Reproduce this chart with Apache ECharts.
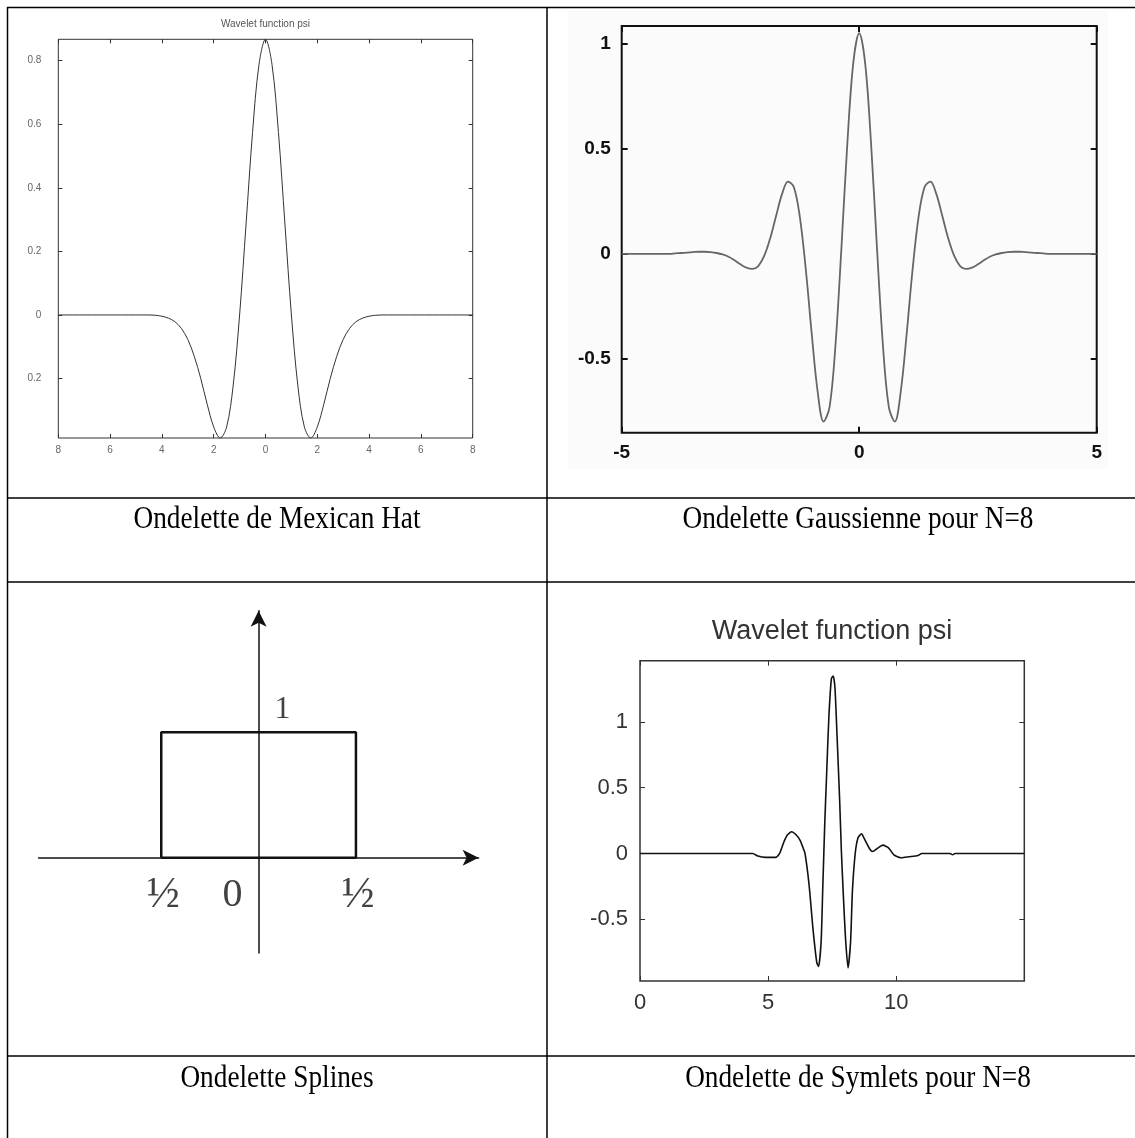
<!DOCTYPE html>
<html>
<head>
<meta charset="utf-8">
<script src="https://cdn.jsdelivr.net/npm/echarts@6/dist/echarts.min.js"></script>
<style>
  html, body { margin: 0; padding: 0; background: #fff; }
  #c { width: 1135px; height: 1138px; }
</style>
</head>
<body>
<div id="c"></div>
<script>
// ---- Mexican hat wavelet ----
const mexX = [-8, -4.5, -4.25, -4, -3.75, -3.5, -3.25, -3, -2.75, -2.5, -2.25, -2, -1.75, -1.5, -1.25, -1, -0.75, -0.5, -0.25,
  0, 0.25, 0.5, 0.75, 1, 1.25, 1.5, 1.75, 2, 2.25, 2.5, 2.75, 3, 3.25, 3.5, 3.75, 4, 4.25, 4.5, 8];
const mexY = [0, 0, -0.001, -0.004, -0.010, -0.021, -0.042, -0.077, -0.130, -0.200, -0.281, -0.352, -0.387, -0.352, -0.223, 0, 0.286, 0.574, 0.788,
  0.867, 0.788, 0.574, 0.286, 0, -0.223, -0.352, -0.387, -0.352, -0.281, -0.200, -0.130, -0.077, -0.042, -0.021, -0.010, -0.004, -0.001, 0, 0];
const mexYTicks = [-0.2, 0, 0.2, 0.4, 0.6, 0.8];

// ---- Gaussian wavelet, N = 8 ----
const gausX = [-5, -4, -3.875, -3.75, -3.625, -3.5, -3.375, -3.25, -3.125, -3, -2.875, -2.75, -2.625, -2.5, -2.375, -2.25, -2.125,
  -2, -1.875, -1.75, -1.625, -1.5, -1.375, -1.25, -1.125, -1, -0.875, -0.75, -0.625, -0.5, -0.375, -0.25, -0.125,
  0, 0.125, 0.25, 0.375, 0.5, 0.625, 0.75, 0.875, 1, 1.125, 1.25, 1.375, 1.5, 1.625, 1.75, 1.875,
  2, 2.125, 2.25, 2.375, 2.5, 2.625, 2.75, 2.875, 3, 3.125, 3.25, 3.375, 3.5, 3.625, 3.75, 3.875, 4, 5];
const gausY = [0, 0, 0.002, 0.004, 0.006, 0.008, 0.010, 0.010, 0.008, 0.004, -0.003, -0.014, -0.031, -0.050, -0.066, -0.072, -0.058,
  -0.010, 0.073, 0.180, 0.284, 0.344, 0.317, 0.176, -0.072, -0.379, -0.655, -0.798, -0.730, -0.436, 0.025, 0.524, 0.907,
  1.05, 0.907, 0.524, 0.025, -0.436, -0.730, -0.798, -0.655, -0.379, -0.072, 0.176, 0.317, 0.344, 0.284, 0.180, 0.073,
  -0.010, -0.058, -0.072, -0.066, -0.050, -0.031, -0.014, -0.003, 0.004, 0.008, 0.010, 0.010, 0.008, 0.006, 0.004, 0.002, 0, 0];
const gausYTicks = [-0.5, 0, 0.5, 1];

// ---- Spline (box) wavelet ----
const boxX = [-0.5, -0.5, 0.5, 0.5, -0.5];
const boxY = [0, 1, 1, 0, 0];
const boxTickX = [-0.5, 0, 0.5];
const boxTickText = ['½', '0', '½'];
const boxLevelText = '1';

// ---- Symlet wavelet, N = 8 ----
const symX = [0, 4.4, 4.6, 4.9, 5.3, 5.45, 5.6, 5.75, 5.92, 6.1, 6.25, 6.35, 6.44, 6.6, 6.75, 6.9, 6.97, 7.07, 7.13, 7.21, 7.28,
  7.37, 7.47, 7.54, 7.61, 7.69, 7.79, 7.86, 7.93, 8.02, 8.12, 8.22, 8.29, 8.4, 8.51, 8.65, 8.76, 8.98, 9.08, 9.27, 9.48,
  9.7, 9.91, 10.2, 10.5, 10.85, 11.0, 12.1, 12.2, 12.3, 15];
const symY = [0, 0, -0.02, -0.03, -0.03, 0, 0.08, 0.14, 0.165, 0.14, 0.10, 0.05, 0, -0.24, -0.57, -0.83, -0.86, -0.67, -0.29, 0.22, 0.58,
  1.03, 1.33, 1.35, 1.26, 0.90, 0.42, 0.02, -0.29, -0.64, -0.87, -0.67, -0.29, 0, 0.12, 0.15, 0.11, 0.03, 0.015, 0.04, 0.063,
  0.043, -0.01, -0.033, -0.025, -0.015, 0, 0, -0.01, 0, 0];
const symYTicks = [-0.5, 0, 0.5, 1];

// ---- captions ----
const captions = ['Ondelette de Mexican Hat', 'Ondelette Gaussienne pour N=8', 'Ondelette Splines', 'Ondelette de Symlets pour N=8'];
const plotTitle = 'Wavelet function psi';

const zip = (xs, ys) => xs.map((x, i) => [x, ys[i]]);
const noSplit = { show: false };

// boxed plot: bottom/left axes carry labels, top/right only inward ticks
function boxedAxes(grid, xCfg, yCfg, tickColor, tickLen, tickWidth, labelStyle) {
  const tick = { inside: true, length: tickLen, lineStyle: { color: tickColor, width: tickWidth } };
  const xs = ['bottom', 'top'].map((pos, k) => Object.assign({
    gridIndex: grid, type: 'value', position: pos,
    axisLine: { show: false, onZero: false },
    axisTick: Object.assign({}, tick),
    splitLine: noSplit,
    axisLabel: k === 0 ? Object.assign({}, labelStyle.x) : { show: false }
  }, xCfg));
  const ys = ['left', 'right'].map((pos, k) => Object.assign({
    gridIndex: grid, type: 'value', position: pos,
    axisLine: { show: false, onZero: false },
    axisTick: Object.assign({ customValues: yCfg.ticks }, tick),
    splitLine: noSplit,
    axisLabel: k === 0 ? Object.assign({ customValues: yCfg.ticks }, labelStyle.y) : { show: false }
  }, { min: yCfg.min, max: yCfg.max }));
  return { xs, ys };
}

const mexAxes = boxedAxes(0, { min: -8, max: 8, interval: 2 }, { min: -0.387, max: 0.867, ticks: mexYTicks }, '#333', 4, 1, {
  x: { fontFamily: 'Liberation Sans', fontSize: 10, color: '#666', margin: 7, formatter: v => String(Math.abs(v)) },
  y: { fontFamily: 'Liberation Sans', fontSize: 10, color: '#666', margin: 17, formatter: v => String(Math.abs(v)) }
});
const gausAxes = boxedAxes(1, { min: -5, max: 5, interval: 5 }, { min: -0.851, max: 1.084, ticks: gausYTicks }, '#111', 6, 2, {
  x: { fontFamily: 'Liberation Sans', fontWeight: 'bold', fontSize: 19, color: '#111', margin: 11 },
  y: { fontFamily: 'Liberation Sans', fontWeight: 'bold', fontSize: 19, color: '#111', margin: 11 }
});
const symAxes = boxedAxes(3, { min: 0, max: 15, interval: 5 }, { min: -0.97, max: 1.466, ticks: symYTicks }, '#333', 5, 1, {
  x: { fontFamily: 'Liberation Sans', fontSize: 22, color: '#333', margin: 11, showMaxLabel: false },
  y: { fontFamily: 'Liberation Sans', fontSize: 22, color: '#333', margin: 12 }
});

const arrowAxisLine = {
  show: true, onZero: true, symbol: ['none', 'arrow'], symbolSize: [12, 16],
  lineStyle: { color: '#111', width: 1.5 }
};

const xAxis = [
  ...mexAxes.xs, ...gausAxes.xs,
  { gridIndex: 2, type: 'value', min: -1.13, max: 1.13, axisLine: arrowAxisLine, axisTick: { show: false }, axisLabel: { show: false }, splitLine: noSplit },
  ...symAxes.xs
];
const yAxis = [
  ...mexAxes.ys, ...gausAxes.ys,
  { gridIndex: 2, type: 'value', min: -0.76, max: 1.97, axisLine: arrowAxisLine, axisTick: { show: false }, axisLabel: { show: false }, splitLine: noSplit },
  ...symAxes.ys
];

// text marks of the spline diagram, placed in data coordinates
const serif = 'Liberation Serif';
const boxTickOffsets = [[2, 38], [-26, 38], [2, 38]];
const boxTickSizes = [44, 40, 44];
const boxLabels = boxTickX.map((x, i) => ({
  value: [x, 0],
  label: { show: true, formatter: boxTickText[i], offset: boxTickOffsets[i], fontFamily: serif, fontSize: boxTickSizes[i], color: '#111' }
}));
boxLabels.push({
  value: [0, 1],
  label: { show: true, formatter: boxLevelText, offset: [24, -23], fontFamily: serif, fontSize: 32, color: '#111' }
});

const W = 1135, H = 1138;
const ruleLines = [
  [7, 7.5, W, 7.5], [7, 498, W, 498], [7, 582, W, 582], [7, 1056, W, 1056],
  [7.5, 7, 7.5, H], [547, 7, 547, H]
];
const graphic = [
  // light backdrop behind the Gaussian plot
  { type: 'rect', shape: { x: 568, y: 10, width: 540, height: 459 }, style: { fill: '#fbfbfb' }, z: -10 },
  ...ruleLines.map(l => ({ type: 'line', shape: { x1: l[0], y1: l[1], x2: l[2], y2: l[3] }, style: { stroke: '#000', lineWidth: 1.5 }, z: 10 })),
  { type: 'text', x: 265.5, y: 24, style: { text: plotTitle, font: '10px "Liberation Sans"', fill: '#555', textAlign: 'center', textVerticalAlign: 'middle' } },
  { type: 'text', x: 832, y: 632, style: { text: plotTitle, font: '27px "Liberation Sans"', fill: '#333', textAlign: 'center', textVerticalAlign: 'middle' } },
  ...captions.map((t, i) => ({
    type: 'text', x: i % 2 === 0 ? 277 : 858, y: i < 2 ? 520 : 1079, scaleX: 0.88,
    style: { text: t, font: '31px "Liberation Serif"', fill: '#000', textAlign: 'center', textVerticalAlign: 'middle' }
  }))
];

const option = {
  animation: false,
  backgroundColor: '#fff',
  grid: [
    { left: 58.3, top: 39.3, width: 414.4, height: 398.7, show: true, borderColor: '#333', borderWidth: 1, backgroundColor: 'transparent', outerBoundsMode: 'none' },
    { left: 621.7, top: 26, width: 475, height: 406.7, show: true, borderColor: '#111', borderWidth: 2, backgroundColor: 'transparent', outerBoundsMode: 'none' },
    { left: 38.6, top: 610.7, width: 440, height: 342.3, outerBoundsMode: 'none' },
    { left: 640, top: 660.7, width: 384.3, height: 320.3, show: true, borderColor: '#333', borderWidth: 1.5, backgroundColor: 'transparent', outerBoundsMode: 'none' }
  ],
  xAxis, yAxis,
  graphic,
  series: [
    { type: 'line', xAxisIndex: 0, yAxisIndex: 0, data: zip(mexX, mexY), smooth: 0.35, showSymbol: false,
      lineStyle: { color: '#333', width: 1 } },
    { type: 'line', xAxisIndex: 2, yAxisIndex: 2, data: zip(gausX, gausY), smooth: 0.35, showSymbol: false,
      lineStyle: { color: '#666', width: 1.8 } },
    { type: 'line', xAxisIndex: 4, yAxisIndex: 4, data: zip(boxX, boxY), showSymbol: false,
      lineStyle: { color: '#111', width: 2.5 } },
    { type: 'scatter', xAxisIndex: 4, yAxisIndex: 4, symbolSize: 0, data: boxLabels, silent: true },
    { type: 'line', xAxisIndex: 5, yAxisIndex: 5, data: zip(symX, symY), smooth: 0.2, showSymbol: false,
      lineStyle: { color: '#111', width: 1.6 } }
  ]
};

const chart = echarts.init(document.getElementById('c'));
chart.setOption(option);
</script>
</body>
</html>
